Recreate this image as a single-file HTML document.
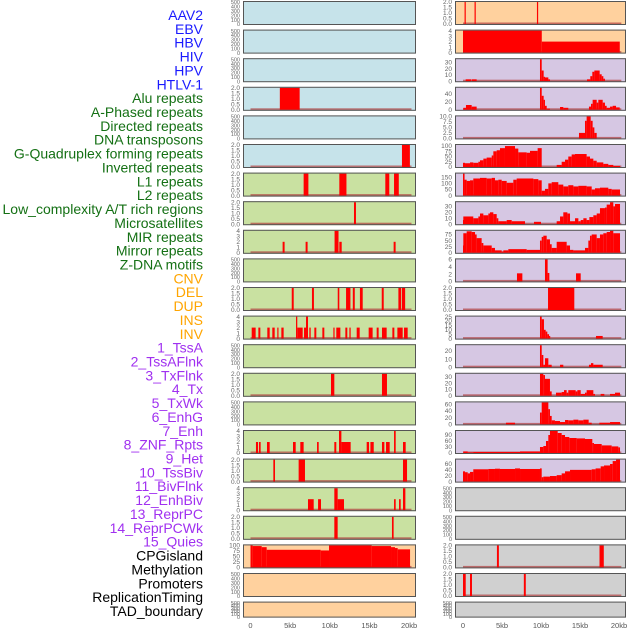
<!DOCTYPE html>
<html><head><meta charset="utf-8">
<style>
body{margin:0;background:#fff;width:630px;height:630px;overflow:hidden;font-family:"Liberation Sans",sans-serif}
svg{display:block}
</style></head>
<body>
<svg id="chart" width="630" height="630" xmlns="http://www.w3.org/2000/svg"></svg>
<script>
const labels=["AAV2","EBV","HBV","HIV","HPV","HTLV-1","Alu repeats","A-Phased repeats","Directed repeats","DNA transposons","G-Quadruplex forming repeats","Inverted repeats","L1 repeats","L2 repeats","Low_complexity A/T rich regions","Microsatellites","MIR repeats","Mirror repeats","Z-DNA motifs","CNV","DEL","DUP","INS","INV","1_TssA","2_TssAFlnk","3_TxFlnk","4_Tx","5_TxWk","6_EnhG","7_Enh","8_ZNF_Rpts","9_Het","10_TssBiv","11_BivFlnk","12_EnhBiv","13_ReprPC","14_ReprPCWk","15_Quies","CPGisland","Methylation","Promoters","ReplicationTiming","TAD_boundary"];
const labelGroups=[6,13,5,15,5];
const groupColors=["#1a1aff","#147014","#ffa500","#a030f0","#000000"];
const xTicks=[0,5,10,15,20];
const xTickLabels=["0","5kb","10kb","15kb","20kb"];
// left column panels [start kb, end kb, height]
const L0=[],L1=[],L2=[],L4=[],L9=[],L12=[],L14=[],L20=[],L21=[];
const L3=[[3.7,6.2,2]];
const L5=[[19.1,20.1,2]];
const L6=[[6.7,7.3,2],[11.2,12.1,2],[17.0,17.5,2],[18.1,18.7,2]];
const L7=[[13.05,13.3,2]];
const L8=[[4.05,4.3,2],[6.95,7.2,2],[10.6,11.1,4],[11.2,11.5,2],[18.05,18.3,2]];
const L10=[[5.2,5.45,2],[7.75,8.0,2],[11.0,11.2,2],[12.05,12.6,2],[12.9,13.15,2],[13.8,14.15,2],[16.55,16.8,2],[18.65,19.0,2],[19.1,19.5,2]];
const L11=[[0.15,0.65,2],[0.99,1.24,2],[2.12,2.42,2],[2.75,3.05,2],[3.38,3.51,2],[3.89,4.18,2],[5.74,5.9,4],[5.9,6.58,2],[6.75,7.0,2],[7.0,7.25,4],[7.42,7.59,2],[8.05,8.3,2],[9.06,9.31,2],[10.45,10.57,2],[10.82,11.33,2],[11.96,12.21,2],[12.47,12.63,2],[13.39,13.77,2],[14.9,15.4,2],[15.91,16.16,2],[16.58,17.17,2],[17.89,18.14,2],[18.52,19.19,2],[19.36,19.82,2]];
const L13=[[10.15,10.57,2],[16.58,17.21,2]];
const L15=[[0.69,0.95,2],[1.07,1.28,2],[2.08,2.42,2],[5.36,5.7,2],[6.28,6.7,2],[8.39,8.6,2],[10.57,10.82,2],[11.16,11.46,4],[11.46,12.63,2],[14.65,14.95,2],[15.12,15.54,2],[16.58,16.88,2],[17.09,17.55,2],[18.1,18.31,4],[19.23,19.57,2]];
const L16=[[2.88,3.09,2],[6.07,6.87,2],[19.23,19.74,2]];
const L17=[[7.25,7.97,2],[8.52,8.89,2],[10.57,10.99,4],[10.99,11.79,2],[18.1,18.31,2],[18.73,18.94,2],[19.23,19.53,4]];
const L18=[[10.57,10.99,2],[17.84,18.05,2]];
const L19=[[0,0.27,100],[0.27,1.41,97],[1.41,2.04,92],[2.04,8.85,80],[8.85,9.9,77],[9.9,15.28,100],[15.28,17.72,97],[17.72,18.22,92],[18.22,18.56,88],[18.56,20.12,82]];
// right column panels
const R17=[],R18=[],R21=[];
const R0=[[0.2,0.32,2],[1.48,1.6,2],[9.48,9.6,2]];
const R1=[[0,10.1,4],[10.1,20.1,2]];
const R2=[[0.34,1.03,3],[1.11,1.75,3],[9.87,10.09,35],[10.09,10.34,17],[10.34,10.51,7],[10.51,10.94,6],[10.94,11.15,3],[15.9,16.32,3],[16.32,16.58,8],[16.58,16.84,15],[16.84,17.52,17],[17.52,17.78,11],[17.78,17.99,8],[17.99,18.2,4]];
const R3=[[0.04,0.38,5],[0.38,1.11,12],[1.11,1.75,8],[9.87,10.09,55],[10.09,10.34,35],[10.34,10.51,25],[10.51,10.73,10],[10.73,11.15,3],[12.44,12.86,7],[12.86,13.5,5],[16.15,16.41,8],[16.41,16.62,15],[16.62,17.14,25],[17.14,17.35,18],[17.35,17.91,25],[17.91,18.2,18],[18.2,18.42,10],[18.42,18.85,5],[18.85,19.19,8],[19.19,19.62,10],[19.62,20.09,6]];
const R4=[[14.87,15.64,2.5],[15.64,15.85,8],[15.85,16.37,10],[16.37,16.62,8],[16.62,16.84,5],[16.84,17.14,2.5]];
const R5=[[0,0.26,20],[0.26,0.9,18],[0.9,1.32,22],[1.32,1.97,20],[1.97,2.18,25],[2.18,2.61,32],[2.61,3.03,40],[3.03,3.68,45],[3.68,3.89,55],[3.89,4.32,75],[4.32,4.74,80],[4.74,5.38,90],[5.38,6.67,100],[6.67,7.09,88],[7.09,8.16,70],[8.16,8.59,68],[8.59,9.57,77],[9.57,10.09,90],[12.01,12.65,10],[12.65,13.08,25],[13.08,13.5,35],[13.5,13.93,50],[13.93,14.36,60],[14.36,15.85,62],[15.85,16.28,50],[16.28,16.71,40],[16.71,17.14,30],[17.14,17.99,22],[17.99,18.63,15],[18.63,19.27,10],[19.27,20.13,5]];
const R6=[[0,0.2,180],[0.2,0.47,130],[0.47,0.9,120],[0.9,1.32,125],[1.32,2.18,140],[2.18,3.03,145],[3.03,3.68,140],[3.68,4.1,145],[4.1,4.53,125],[4.53,4.96,130],[4.96,5.6,120],[5.6,6.45,105],[6.45,6.88,130],[6.88,9.02,140],[9.02,9.66,135],[9.66,10.09,125],[10.09,10.51,40],[10.51,10.94,55],[10.94,11.37,100],[11.37,12.22,110],[12.22,12.86,90],[12.86,13.5,75],[13.5,14.15,85],[14.15,14.79,75],[14.79,15.85,80],[15.85,16.5,75],[16.5,16.92,50],[16.92,17.56,60],[17.56,18.63,65],[18.63,19.06,55],[19.06,20.13,50]];
const R7=[[0,0.04,7],[0.04,1.32,13],[1.32,1.97,10],[1.97,2.18,13],[2.18,2.61,18],[2.61,3.25,15],[3.25,3.46,18],[3.46,3.89,20],[3.89,4.32,17],[4.32,4.53,10],[4.53,5.6,5],[5.6,6.24,7],[6.24,7.95,5],[9.1,10.0,4],[12.01,12.44,5],[12.44,12.86,13],[12.86,13.38,20],[13.38,13.72,18],[13.72,14.36,5],[14.36,14.79,10],[14.79,15.09,5],[15.09,15.43,7],[15.43,15.85,10],[15.85,16.2,7],[16.2,16.71,12],[16.71,17.14,15],[17.14,17.56,18],[17.56,18.2,27],[18.2,18.42,28],[18.42,18.85,33],[18.85,19.27,38],[19.27,19.49,30],[19.49,20.13,34]];
const R8=[[0,0.04,30],[0.04,0.47,80],[0.47,1.11,88],[1.11,1.54,85],[1.54,1.75,75],[1.75,2.39,60],[2.39,2.61,40],[2.61,3.68,30],[3.68,4.1,20],[4.1,4.96,10],[4.96,5.17,5],[5.17,5.81,10],[5.81,8.16,15],[8.16,9.87,12],[9.87,10.09,50],[10.09,10.3,65],[10.3,10.73,70],[10.73,11.15,55],[11.15,11.37,35],[11.37,12.01,20],[12.01,13.29,45],[13.29,13.72,30],[13.72,14.15,12],[14.15,15.64,10],[15.64,16.07,20],[16.07,16.28,50],[16.28,16.5,70],[16.5,17.14,75],[17.14,17.56,60],[17.56,17.99,75],[17.99,18.42,80],[18.42,18.85,85],[18.85,19.27,90],[19.27,20.13,80]];
const R9=[[6.92,7.61,2.2],[10.51,10.85,6],[10.85,11.07,2.3],[14.49,15.09,2.2]];
const R10=[[10.9,14.27,2]];
const R11=[[9.87,10.09,25],[10.09,10.38,22],[10.38,10.6,10],[10.6,10.81,8],[10.81,11.03,5],[11.03,11.15,3],[17.05,17.91,3]];
const R12=[[9.87,10.09,27],[10.09,10.3,15],[10.3,10.51,3],[10.51,10.94,11],[10.94,11.37,3],[12.44,12.86,3],[16.15,16.41,3],[16.41,16.71,5],[16.71,17.91,3]];
const R13=[[9.87,10.3,35],[10.3,10.51,33],[10.51,11.15,27],[11.15,11.37,7],[11.92,12.65,5],[12.65,12.95,6],[12.95,13.29,9],[13.29,13.5,5],[13.5,14.44,9],[14.44,14.66,7],[14.66,15.09,9],[15.09,15.64,3],[15.64,15.85,5],[15.85,16.71,9],[16.71,16.92,3],[17.65,18.12,3],[18.85,19.49,3],[19.49,20.13,5]];
const R14=[[5.51,6.67,5],[9.87,10.09,35],[10.09,10.94,65],[10.94,11.15,45],[11.15,11.37,25],[11.37,11.79,12],[11.79,12.44,10],[12.44,13.08,7],[13.08,13.5,13],[13.5,14.15,12],[14.15,14.79,14],[14.79,15.43,12],[15.43,16.11,14],[16.11,16.5,5],[17.48,18.85,5],[18.85,20.13,7]];
const R15=[[0.04,0.6,8],[0.6,1.32,3],[1.32,7.31,5],[7.31,9.87,8],[9.87,10.3,30],[10.3,10.64,35],[10.64,10.94,60],[10.94,11.15,90],[11.15,12.14,110],[12.14,12.65,100],[12.65,13.08,90],[13.08,13.63,80],[13.63,14.57,75],[14.57,15.64,73],[15.64,16.58,70],[16.58,16.79,50],[16.79,17.78,45],[17.78,19.06,38],[19.06,19.91,33],[19.91,20.13,28]];
const R16=[[0,0.26,35],[0.26,0.6,32],[0.6,0.9,28],[0.9,1.32,33],[1.32,3.25,42],[3.25,4.1,43],[4.1,4.74,44],[4.74,6.67,43],[6.67,7.31,45],[7.31,9.87,43],[9.87,10.09,45],[10.09,10.3,15],[10.3,11.15,17],[11.15,12.01,19],[12.01,12.65,22],[12.65,13.08,28],[13.08,13.72,35],[13.72,16.5,40],[16.5,17.0,42],[17.0,17.65,45],[17.65,18.08,52],[18.08,18.85,55],[18.85,19.19,60],[19.19,19.62,70],[19.62,20.13,75]];
const R19=[[4.35,4.6,2],[17.5,18.05,2]];
const R20=[[0.0,0.35,2],[0.9,1.15,2],[7.8,8.05,2]];

const leftData=[L0,L1,L2,L3,L4,L5,L6,L7,L8,L9,L10,L11,L12,L13,L14,L15,L16,L17,L18,L19,L20,L21];
const rightData=[R0,R1,R2,R3,R4,R5,R6,R7,R8,R9,R10,R11,R12,R13,R14,R15,R16,R17,R18,R19,R20,R21];
// y-axis max per panel and tick labels
const leftMax=[500,500,500,2,500,2,2,2,4,500,2,4,500,2,500,4,2,4,2,100,500,500];
const rightMax=[2,4,35,55,10,105,180,37,90,6,2,25,27,35,65,110,75,500,500,2,2,500];
const rightTicks={2:[0,10,20,30],3:[0,20,40],4:[0,2.5,5,7.5,10],5:[0,25,50,75,100],6:[0,50,100,150],7:[0,10,20,30],8:[0,25,50,75],9:[0,2,4,6],11:[0,5,10,15,20,25],12:[0,10,20],13:[0,10,20,30],14:[0,20,40,60],15:[0,30,60,90],16:[0,20,40,60]};
const leftBg=["b","b","b","b","b","b","g","g","g","g","g","g","g","g","g","g","g","g","g","o","o","o"];
const rightBg=["o","o","p","p","p","p","p","p","p","p","p","p","p","p","p","p","p","y","y","y","y","y"];

const NS="http://www.w3.org/2000/svg";
const svg=document.getElementById('chart');
const bgColors={b:"#c6e3ea",g:"#c9e1a1",o:"#ffd19e",p:"#d6c7e3",y:"#d0d0d0"};
function mk(tag,attrs,parent){const e=document.createElementNS(NS,tag);for(const k in attrs)e.setAttribute(k,attrs[k]);(parent||svg).appendChild(e);return e;}
function fmtTicks(max){
  if(max===500)return [0,100,200,300,400,500];
  if(max===2)return [0,0.5,1,1.5,2];
  if(max===4)return [0,1,2,3,4];
  if(max===100)return [0,25,50,75,100];
  return [0,max];
}
function tickText(v,ticks){
  const dec=ticks.some(t=>t%1!==0);
  return dec?v.toFixed(1):String(v);
}
// labels
let li=0;
labelGroups.forEach((n,gi)=>{
  for(let k=0;k<n;k++){
    const t=mk('text',{x:203,y:20+li*13.86,'text-anchor':'end','font-size':14,fill:groupColors[gi]});
    
    
    t.textContent=labels[li];li++;
  }
});
function panel(col,i,data,max,ticks,bg){
  const x0=col?455:243, x1=col?626:416;
  const x0kb=col?463:250.5, pk=col?7.8:7.93;
  const top=1+i*28.6, h=(i===21)?16:24, bot=top+h;
  const sx=kb=>x0kb+kb*pk;
  const sy=v=>bot-1-Math.min(v,max)/max*(h-2);
  const g=mk('g',{});
  
  
  mk('rect',{x:x0,y:top,width:x1-x0,height:h,fill:bgColors[bg]},g);
  if(max!==500){
    mk('rect',{x:sx(0),y:bot-2.5,width:sx(20.3)-sx(0),height:2,fill:"#b04040",opacity:0.7},g);
  }
  data.forEach(d=>{
    const r=mk('rect',{x:sx(d[0]),y:sy(d[2]),width:Math.max(1.2,sx(d[1])-sx(d[0])),height:bot-1-sy(d[2]),fill:"#ff0000"},g);
    
    
  });
  mk('rect',{x:x0+0.5,y:top+0.5,width:x1-x0-1,height:h-1,fill:"none",stroke:"#555",'stroke-width':1},g);
  const tk=ticks||fmtTicks(max);
  tk.forEach(v=>{
    const t=mk('text',{x:x0-3,y:sy(v)+2.2,'text-anchor':'end','font-size':(max===500?5.5:6.5),fill:"#666"},g);
    t.textContent=tickText(v,tk);
  });
}
for(let i=0;i<22;i++){
  panel(0,i,leftData[i],leftMax[i],null,leftBg[i]);
  panel(1,i,rightData[i],rightMax[i],rightTicks[i]||null,rightBg[i]);
}
[0,1].forEach(col=>{
  const x0kb=col?463:250.5, pk=col?7.8:7.93;
  xTicks.forEach((v,k)=>{
    const t=mk('text',{x:x0kb+v*pk,y:628,'text-anchor':'middle','font-size':7.5,fill:"#555"});
    
    
    t.textContent=xTickLabels[k];
  });
});
</script>
</body></html>
